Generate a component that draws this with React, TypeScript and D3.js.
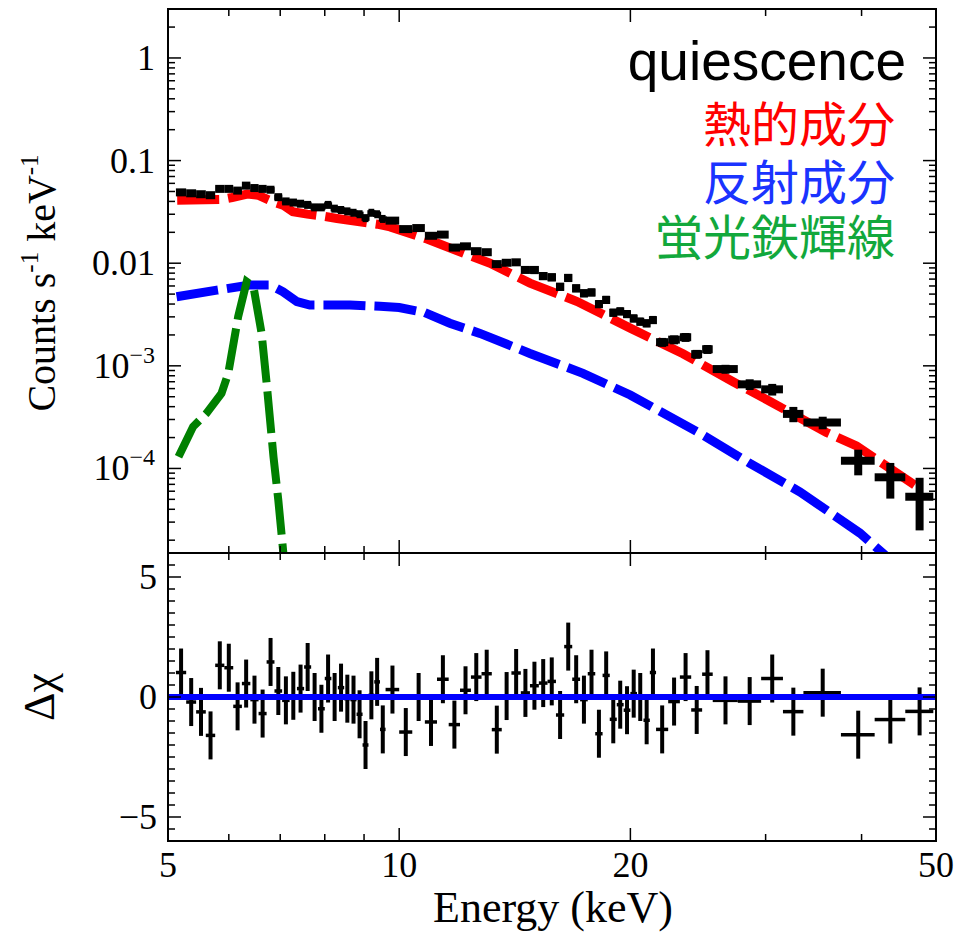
import React from 'react';
import * as d3 from 'd3';

// spectral bins (keV)
const energy = [
  5.2, 5.36, 5.52, 5.68, 5.84, 6.0, 6.16, 6.32, 6.48, 6.64, 6.8, 6.96, 7.12, 7.28,
  7.44, 7.6, 7.76, 7.92, 8.08, 8.24, 8.4, 8.56, 8.72, 8.88, 9.04, 9.2, 9.36, 9.52,
  9.8, 10.2, 10.6, 11.0, 11.4, 11.8, 12.2, 12.6, 13.0, 13.4, 13.8, 14.2, 14.6, 15.0,
  15.4, 15.8, 16.2, 16.6, 17.0, 17.4, 17.8, 18.2, 18.6, 19.0, 19.4, 19.8, 20.2, 20.6,
  21.0, 21.4, 22.0, 22.8, 23.6, 24.4, 25.2, 26.6, 28.6, 30.6, 32.6, 35.6, 39.6, 43.6, 47.6,
];
const halfWidth = [
  0.08, 0.08, 0.08, 0.08, 0.08, 0.08, 0.08, 0.08, 0.08, 0.08, 0.08, 0.08, 0.08, 0.08,
  0.08, 0.08, 0.08, 0.08, 0.08, 0.08, 0.08, 0.08, 0.08, 0.08, 0.08, 0.08, 0.08, 0.08,
  0.2, 0.2, 0.2, 0.2, 0.2, 0.2, 0.2, 0.2, 0.2, 0.2, 0.2, 0.2, 0.2, 0.2,
  0.2, 0.2, 0.2, 0.2, 0.2, 0.2, 0.2, 0.2, 0.2, 0.2, 0.2, 0.2, 0.2, 0.2,
  0.2, 0.2, 0.4, 0.4, 0.4, 0.4, 0.4, 1.0, 1.0, 1.0, 1.0, 2.0, 2.0, 2.0, 2.0,
];
const counts = [
  0.049, 0.048, 0.047, 0.046, 0.053, 0.053, 0.051, 0.057, 0.054, 0.053, 0.052, 0.044, 0.04, 0.039,
  0.038, 0.037, 0.035, 0.035, 0.037, 0.034, 0.033, 0.032, 0.031, 0.03, 0.0275, 0.031, 0.03, 0.027,
  0.026, 0.0215, 0.022, 0.0185, 0.019, 0.0142, 0.0146, 0.0131, 0.0128, 0.0098, 0.0101, 0.0102, 0.0086, 0.0086,
  0.0075, 0.0073, 0.0059, 0.0072, 0.0057, 0.0051, 0.0052, 0.004, 0.0044, 0.0033, 0.0034, 0.0032, 0.0029, 0.0027,
  0.0026, 0.0028, 0.0017, 0.0018, 0.0019, 0.0013, 0.00145, 0.00093, 0.00066, 0.00059, 0.00034, 0.00028,
  0.000119, 0.000082, 0.000053,
];
const countsRelErr = [
  0.06, 0.06, 0.06, 0.06, 0.06, 0.06, 0.06, 0.06, 0.06, 0.06, 0.06, 0.06, 0.06, 0.06,
  0.06, 0.06, 0.06, 0.06, 0.06, 0.06, 0.06, 0.06, 0.06, 0.06, 0.06, 0.06, 0.06, 0.06,
  0.06, 0.07, 0.07, 0.07, 0.07, 0.07, 0.07, 0.07, 0.07, 0.07, 0.07, 0.07, 0.07, 0.09,
  0.09, 0.09, 0.09, 0.09, 0.09, 0.09, 0.09, 0.09, 0.09, 0.09, 0.09, 0.09, 0.09, 0.09,
  0.09, 0.09, 0.1, 0.1, 0.1, 0.1, 0.1, 0.1, 0.12, 0.13, 0.17, 0.14, 0.28, 0.38, 0.53,
];
const delChi = [
  1.02, -0.21, -0.62, -1.6, 1.32, 1.22, -0.39, 0.56, -0.11, -0.69, 1.46, 0.25, -0.14, 0.05,
  0.35, 1.25, 0.0, -0.49, 0.77, 0.0, 0.39, -0.07, -0.11, -0.72, -2.0, 0.07, 0.63, -1.35,
  0.31, -1.46, 0.0, -1.04, 0.74, -1.15, 0.28, 0.83, 0.97, -1.36, 0.04, 1.0, 0.17, 0.47,
  0.58, 0.65, -0.75, 2.1, 0.74, -0.11, 0.97, -1.53, 0.9, -0.93, -0.32, -0.55, 0.14, 0.0,
  -0.97, 1.02, -1.35, -0.19, 0.83, -0.54, 0.95, -0.14, -0.17, 0.77, -0.61, 0.18, -1.57, -0.94, -0.6,
];

// model components
const thermalE = [5.14, 5.88, 6.06, 6.34, 6.55, 6.85, 7.06, 7.27, 7.59, 7.96, 8.3, 9.36, 9.73, 10.87, 12.37, 13.13, 14.8, 17.05, 19.99, 23.42, 27.21, 30.4, 36.0, 39.4, 46.9];
const thermalV = [0.041, 0.0418, 0.0437, 0.0471, 0.046, 0.0396, 0.0368, 0.0317, 0.0301, 0.0287, 0.0273, 0.024, 0.0226, 0.0172, 0.0118, 0.01, 0.0064, 0.00423, 0.00233, 0.00131, 0.0007, 0.00045, 0.000224, 0.000166, 0.000069];
const reflE = [5.13, 5.79, 6.39, 6.79, 7.06, 7.36, 7.65, 8.63, 9.44, 10.0, 10.8, 11.64, 12.74, 14.8, 17.35, 19.99, 24.64, 28.62, 33.27, 39.81, 42.66, 44.88];
const reflV = [0.00471, 0.00547, 0.00612, 0.00612, 0.00527, 0.00423, 0.00391, 0.00391, 0.0038, 0.0037, 0.0033, 0.0026, 0.00207, 0.00132, 0.000845, 0.00052, 0.00022, 0.000112, 0.000059, 0.0000234, 0.0000149, 0.0000105];
const ironE = [5.16, 5.39, 5.61, 5.87, 5.99, 6.17, 6.33, 6.46, 6.62, 6.72, 6.86, 6.96, 7.06, 7.12];
const ironV = [0.00013, 0.000255, 0.000344, 0.00054, 0.000845, 0.003, 0.0066, 0.0059, 0.00207, 0.00068, 0.00013, 0.000049, 0.000016, 0.000008];

const xTickValues = [5, 10, 20, 50];
const xTickLabels = ['5', '10', '20', '50'];
const yTopTickValues = [1, 0.1, 0.01, 0.001, 0.0001];
const yTopTickBase = ['1', '0.1', '0.01', '10', '10'];
const yTopTickExp = ['', '', '', '\u22123', '\u22124'];
const yResTickValues = [5, 0, -5];
const yResTickLabels = ['5', '0', '\u22125'];

const legend = [
  { text: '熱的成分', color: '#ff0000' },
  { text: '反射成分', color: '#1a33ff' },
  { text: '蛍光鉄輝線', color: '#12a83c' },
];

const L = 168, R = 936, T = 9, M = 553, B = 841;
const serif = '"Liberation Serif", "Times New Roman", serif';

export default function App() {
  const x = d3.scaleLog().domain([5, 50]).range([L, R]);
  const yTop = d3.scaleLog().domain([1.5e-5, 3]).range([M, T]);
  const yRes = d3.scaleLinear().domain([-6, 6]).range([B, M]);
  const line = d3.line<[number, number]>();

  const model = (es: number[], vs: number[]) => line(es.map((e, i) => [x(e), yTop(vs[i])] as [number, number])) || '';

  const xAll = x.ticks();
  const yTopAll = yTop.ticks().filter((v) => v >= 1.5e-5 && v <= 3);
  const yResAll = d3.range(-6, 6.01, 0.5);
  const isMajorX = (v: number) => xTickValues.some((t) => Math.abs(t - v) < 1e-9);
  const isMajorY = (v: number) => yTopTickValues.some((t) => Math.abs(t / v - 1) < 1e-6);

  const tk = { stroke: '#000', strokeWidth: 1.5 };

  return (
    <svg width={957} height={932} style={{ position: 'absolute', left: 0, top: 0, background: '#fff' }}>
      <defs>
        <clipPath id="clipTop"><rect x={L} y={T} width={R - L} height={M - T} /></clipPath>
        <clipPath id="clipRes"><rect x={L} y={M} width={R - L} height={B - M} /></clipPath>
      </defs>

      {/* upper panel: models */}
      <g clipPath="url(#clipTop)" fill="none" strokeDasharray="42 9">
        <path d={model(thermalE, thermalV)} stroke="#ff0000" strokeWidth={9} />
        <path d={model(reflE, reflV)} stroke="#0000ff" strokeWidth={9} />
        <path d={model(ironE, ironV)} stroke="#008000" strokeWidth={8} />
      </g>

      {/* upper panel: data */}
      <g clipPath="url(#clipTop)" stroke="#000" strokeWidth={8}>
        {energy.map((e, i) => {
          const v = counts[i];
          const err = v * countsRelErr[i];
          return (
            <g key={i}>
              <line x1={x(e - halfWidth[i])} x2={x(e + halfWidth[i])} y1={yTop(v)} y2={yTop(v)} />
              <line x1={x(e)} x2={x(e)} y1={yTop(v + err)} y2={yTop(Math.max(v - err, 1e-6))} />
            </g>
          );
        })}
      </g>

      {/* residual panel */}
      <g clipPath="url(#clipRes)" stroke="#000">
        {energy.map((e, i) => (
          <g key={i}>
            <line x1={x(e - halfWidth[i])} x2={x(e + halfWidth[i])} y1={yRes(delChi[i])} y2={yRes(delChi[i])} strokeWidth={3.5} />
            <line x1={x(e)} x2={x(e)} y1={yRes(delChi[i] + 1)} y2={yRes(delChi[i] - 1)} strokeWidth={4} />
          </g>
        ))}
      </g>
      <line x1={L} x2={R} y1={yRes(0)} y2={yRes(0)} stroke="#0000ff" strokeWidth={6} />

      {/* ticks */}
      <g {...tk}>
        {xAll.map((v) => {
          const len = isMajorX(v) ? 13 : 7;
          const px = x(v);
          return (
            <g key={'x' + v}>
              <line x1={px} x2={px} y1={T} y2={T + len} />
              <line x1={px} x2={px} y1={M} y2={M - len} />
              <line x1={px} x2={px} y1={M} y2={M + len} />
              <line x1={px} x2={px} y1={B} y2={B - len} />
            </g>
          );
        })}
        {yTopAll.map((v) => {
          const len = isMajorY(v) ? 13 : 7;
          const py = yTop(v);
          return (
            <g key={'yt' + v}>
              <line x1={L} x2={L + len} y1={py} y2={py} />
              <line x1={R} x2={R - len} y1={py} y2={py} />
            </g>
          );
        })}
        {yResAll.map((v) => {
          const len = v % 5 === 0 ? 13 : 7;
          const py = yRes(v);
          return (
            <g key={'yr' + v}>
              <line x1={L} x2={L + len} y1={py} y2={py} />
              <line x1={R} x2={R - len} y1={py} y2={py} />
            </g>
          );
        })}
      </g>

      {/* frames */}
      <rect x={L} y={T} width={R - L} height={B - T} fill="none" stroke="#000" strokeWidth={2} />
      <line x1={L} x2={R} y1={M} y2={M} stroke="#000" strokeWidth={2} />

      {/* tick labels */}
      <g fontFamily={serif} fontSize={36} fill="#000">
        {yTopTickValues.map((v, i) => (
          <text key={'lt' + i} x={155} y={yTop(v) + 12} textAnchor="end">
            {yTopTickBase[i]}
            {yTopTickExp[i] && (
              <tspan fontSize={24} dy={-15}>{yTopTickExp[i]}</tspan>
            )}
          </text>
        ))}
        {yResTickValues.map((v, i) => (
          <text key={'lr' + i} x={157} y={yRes(v) + 12} textAnchor="end">{yResTickLabels[i]}</text>
        ))}
        {xTickValues.map((v, i) => (
          <text key={'lx' + i} x={x(v)} y={877} textAnchor="middle">{xTickLabels[i]}</text>
        ))}
      </g>

      {/* axis titles */}
      <text x={553} y={922} textAnchor="middle" fontFamily={serif} fontSize={44}>Energy (keV)</text>
      <text transform="translate(55,283) rotate(-90)" textAnchor="middle" fontFamily={serif} fontSize={40}>
        Counts s<tspan fontSize={25} dy={-17}>-1</tspan>
        <tspan dy={17}> keV</tspan>
        <tspan fontSize={25} dy={-17}>-1</tspan>
      </text>
      <text transform="translate(54,697) rotate(-90)" textAnchor="middle" fontFamily={serif} fontSize={44}>Δχ</text>

      {/* legend */}
      <text x={906} y={80} textAnchor="end" fontFamily='"Liberation Sans", Arial, sans-serif' fontSize={55} fill="#000">quiescence</text>
      {legend.map((d, i) => (
        <text key={d.text} x={895} y={[142, 200, 255][i]} textAnchor="end" fontFamily='"Noto Sans CJK JP", sans-serif' fontSize={48} fill={d.color}>
          {d.text}
        </text>
      ))}
    </svg>
  );
}
